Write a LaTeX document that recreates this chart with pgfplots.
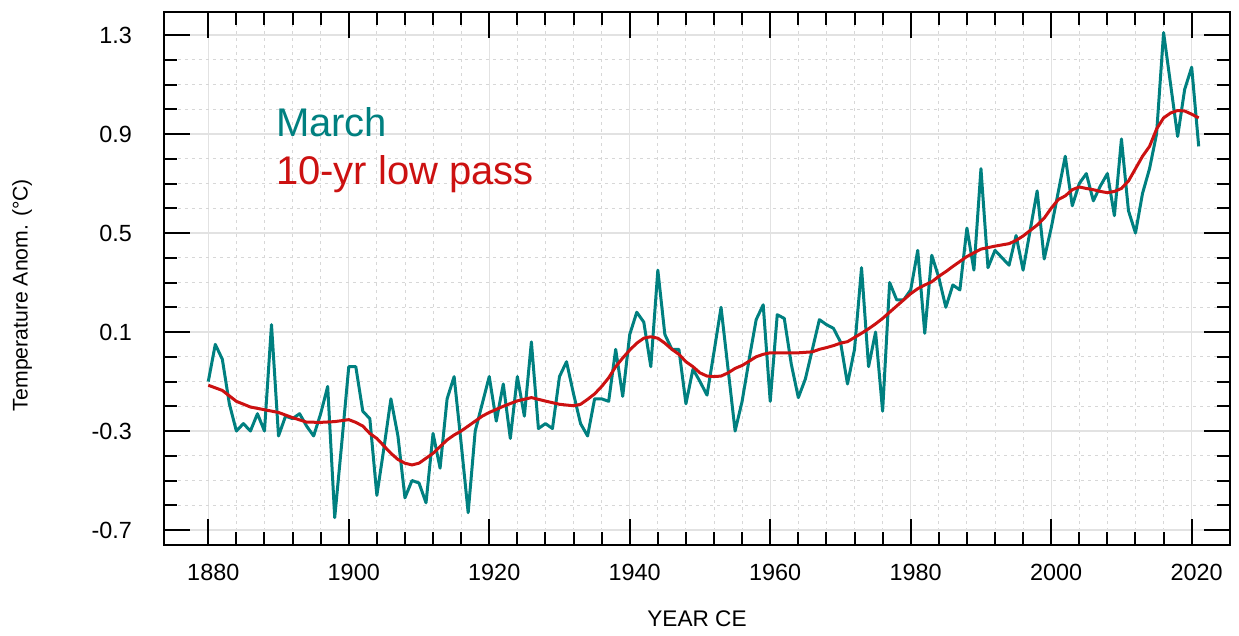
\documentclass[border=0pt]{standalone}
\usepackage{fontspec}
\setmainfont{Liberation Sans}
\usepackage{pgfplots}
\pgfplotsset{compat=1.18}

\definecolor{marchteal}{RGB}{0,128,128}
\definecolor{lowred}{RGB}{204,17,17}
\definecolor{gridmaj}{RGB}{226,226,226}
\definecolor{gridmin}{RGB}{215,215,215}

\begin{document}
\begin{tikzpicture}
\begin{axis}[
    scale only axis,
    width=533pt, height=266.5pt,
    xmin=1873.69, xmax=2025.46,
    ymin=-0.7606, ymax=1.393,
    xtick={1880,1900,1920,1940,1960,1980,2000,2020},
    xticklabels={1880,1900,1920,1940,1960,1980,2000,2020},
    ytick={-0.7,-0.3,0.1,0.5,0.9,1.3},
    yticklabels={-0.7,-0.3,0.1,0.5,0.9,1.3},
    minor x tick num=4,
    minor y tick num=3,
    tick align=inside,
    tick pos=both,
    major tick length=13pt,
    minor tick length=6.5pt,
    every tick/.style={black, line width=1pt},
    axis line style={black, line width=1.4pt},
    grid=both,
    major grid style={draw=gridmaj, line width=0.6pt},
    minor grid style={draw=gridmin, line width=0.45pt, dash pattern=on 1.5pt off 2pt},
    ticklabel style={font=\fontsize{11.7}{14}\selectfont},
    xticklabel style={yshift=-6pt, xshift=2.5pt},
    yticklabel style={xshift=-12.5pt},
    xlabel={YEAR CE},
    ylabel={Temperature Anom. (°C)},
    xlabel style={font=\fontsize{11.3}{14}\selectfont, at={(axis description cs:0.5,-0.139)}, anchor=center},
    ylabel style={font=\fontsize{10.6}{13}\selectfont, at={(axis description cs:-0.133,0.469)}, anchor=center, rotate=0},
    clip=true,
]
% March anomalies
\addplot[color=marchteal, line width=1.5pt, line join=round] coordinates {
(1880,-0.10) (1881,0.05) (1882,-0.01) (1883,-0.19) (1884,-0.30) (1885,-0.27)
(1886,-0.30) (1887,-0.23) (1888,-0.30) (1889,0.13) (1890,-0.32) (1891,-0.24)
(1892,-0.25) (1893,-0.23) (1894,-0.28) (1895,-0.32) (1896,-0.23) (1897,-0.12)
(1898,-0.65) (1899,-0.35) (1900,-0.04) (1901,-0.04) (1902,-0.22) (1903,-0.25)
(1904,-0.56) (1905,-0.37) (1906,-0.17) (1907,-0.32) (1908,-0.57) (1909,-0.50)
(1910,-0.51) (1911,-0.59) (1912,-0.31) (1913,-0.45) (1914,-0.17) (1915,-0.08)
(1916,-0.35) (1917,-0.63) (1918,-0.30) (1919,-0.19) (1920,-0.08) (1921,-0.26)
(1922,-0.11) (1923,-0.33) (1924,-0.08) (1925,-0.24) (1926,0.06) (1927,-0.29)
(1928,-0.27) (1929,-0.29) (1930,-0.08) (1931,-0.02) (1932,-0.15) (1933,-0.27)
(1934,-0.32) (1935,-0.17) (1936,-0.17) (1937,-0.18) (1938,0.03) (1939,-0.16)
(1940,0.09) (1941,0.18) (1942,0.14) (1943,-0.04) (1944,0.35) (1945,0.09)
(1946,0.03) (1947,0.03) (1948,-0.19) (1949,-0.05) (1950,-0.10) (1951,-0.155)
(1952,0.02) (1953,0.20) (1954,-0.05) (1955,-0.30) (1956,-0.18) (1957,-0.01)
(1958,0.15) (1959,0.21) (1960,-0.18) (1961,0.17) (1962,0.155) (1963,-0.03)
(1964,-0.165) (1965,-0.09) (1966,0.03) (1967,0.15) (1968,0.13) (1969,0.115)
(1970,0.06) (1971,-0.11) (1972,0.03) (1973,0.36) (1974,-0.04) (1975,0.10)
(1976,-0.22) (1977,0.30) (1978,0.23) (1979,0.23) (1980,0.27) (1981,0.43)
(1982,0.095) (1983,0.41) (1984,0.32) (1985,0.20) (1986,0.29) (1987,0.27)
(1988,0.52) (1989,0.35) (1990,0.76) (1991,0.36) (1992,0.43) (1993,0.40)
(1994,0.37) (1995,0.49) (1996,0.35) (1997,0.51) (1998,0.67) (1999,0.395)
(2000,0.52) (2001,0.665) (2002,0.81) (2003,0.61) (2004,0.70) (2005,0.74)
(2006,0.63) (2007,0.69) (2008,0.74) (2009,0.57) (2010,0.88) (2011,0.59)
(2012,0.50) (2013,0.66) (2014,0.76) (2015,0.90) (2016,1.31) (2017,1.10)
(2018,0.89) (2019,1.08) (2020,1.17) (2021,0.85)
};
% 10-yr low pass
\addplot[color=lowred, line width=1.5pt, line join=round] coordinates {
(1880,-0.115) (1882,-0.136) (1884,-0.18) (1886,-0.203) (1888,-0.214)
(1890,-0.225) (1892,-0.246) (1894,-0.264) (1896,-0.265) (1898,-0.262)
(1900,-0.254) (1901,-0.265) (1902,-0.28) (1903,-0.31) (1904,-0.33)
(1905,-0.36) (1906,-0.39) (1907,-0.415) (1908,-0.43) (1909,-0.437)
(1910,-0.43) (1911,-0.41) (1912,-0.39) (1913,-0.363) (1914,-0.336)
(1915,-0.316) (1916,-0.30) (1917,-0.28) (1918,-0.26) (1919,-0.24)
(1920,-0.225) (1922,-0.20) (1924,-0.178) (1926,-0.165) (1928,-0.179)
(1930,-0.192) (1932,-0.198) (1933,-0.192) (1934,-0.172) (1935,-0.15)
(1936,-0.12) (1937,-0.085) (1938,-0.04) (1939,-0.005) (1940,0.027)
(1941,0.055) (1942,0.075) (1943,0.081) (1944,0.075) (1945,0.055)
(1946,0.03) (1947,0.01) (1948,-0.02) (1949,-0.04) (1950,-0.065)
(1951,-0.078) (1952,-0.08) (1953,-0.078) (1954,-0.065) (1955,-0.047)
(1956,-0.035) (1957,-0.018) (1958,0.0) (1959,0.01) (1960,0.016)
(1962,0.016) (1964,0.016) (1966,0.02) (1967,0.03) (1968,0.037)
(1969,0.045) (1970,0.055) (1971,0.061) (1972,0.078) (1973,0.095)
(1974,0.113) (1975,0.133) (1976,0.155) (1977,0.18) (1978,0.205)
(1979,0.23) (1980,0.255) (1981,0.275) (1982,0.29) (1983,0.303)
(1984,0.325) (1985,0.344) (1986,0.365) (1987,0.385) (1988,0.405)
(1989,0.42) (1990,0.435) (1992,0.447) (1994,0.457) (1995,0.47)
(1996,0.488) (1997,0.51) (1998,0.532) (1999,0.56) (2000,0.60)
(2001,0.635) (2002,0.65) (2003,0.675) (2004,0.686) (2005,0.68)
(2006,0.675) (2007,0.668) (2008,0.663) (2009,0.668) (2010,0.68)
(2011,0.71) (2012,0.76) (2013,0.81) (2014,0.85) (2015,0.92)
(2016,0.965) (2017,0.985) (2018,0.995) (2019,0.993) (2020,0.98)
(2021,0.965)
};
\node[anchor=base west, inner sep=0pt, text=marchteal, font=\fontsize{20}{23}\selectfont]
    at (axis cs:1889.6,0.888) {March};
\node[anchor=base west, inner sep=0pt, text=lowred, font=\fontsize{20}{23}\selectfont]
    at (axis cs:1889.6,0.698) {10-yr low pass};
\coordinate (bl) at (rel axis cs:-0.1538,-0.1689);
\coordinate (tr) at (rel axis cs:1.0084,1.0225);
\end{axis}
\pgfresetboundingbox
\path[use as bounding box] (bl) rectangle (tr);
\end{tikzpicture}
\end{document}
